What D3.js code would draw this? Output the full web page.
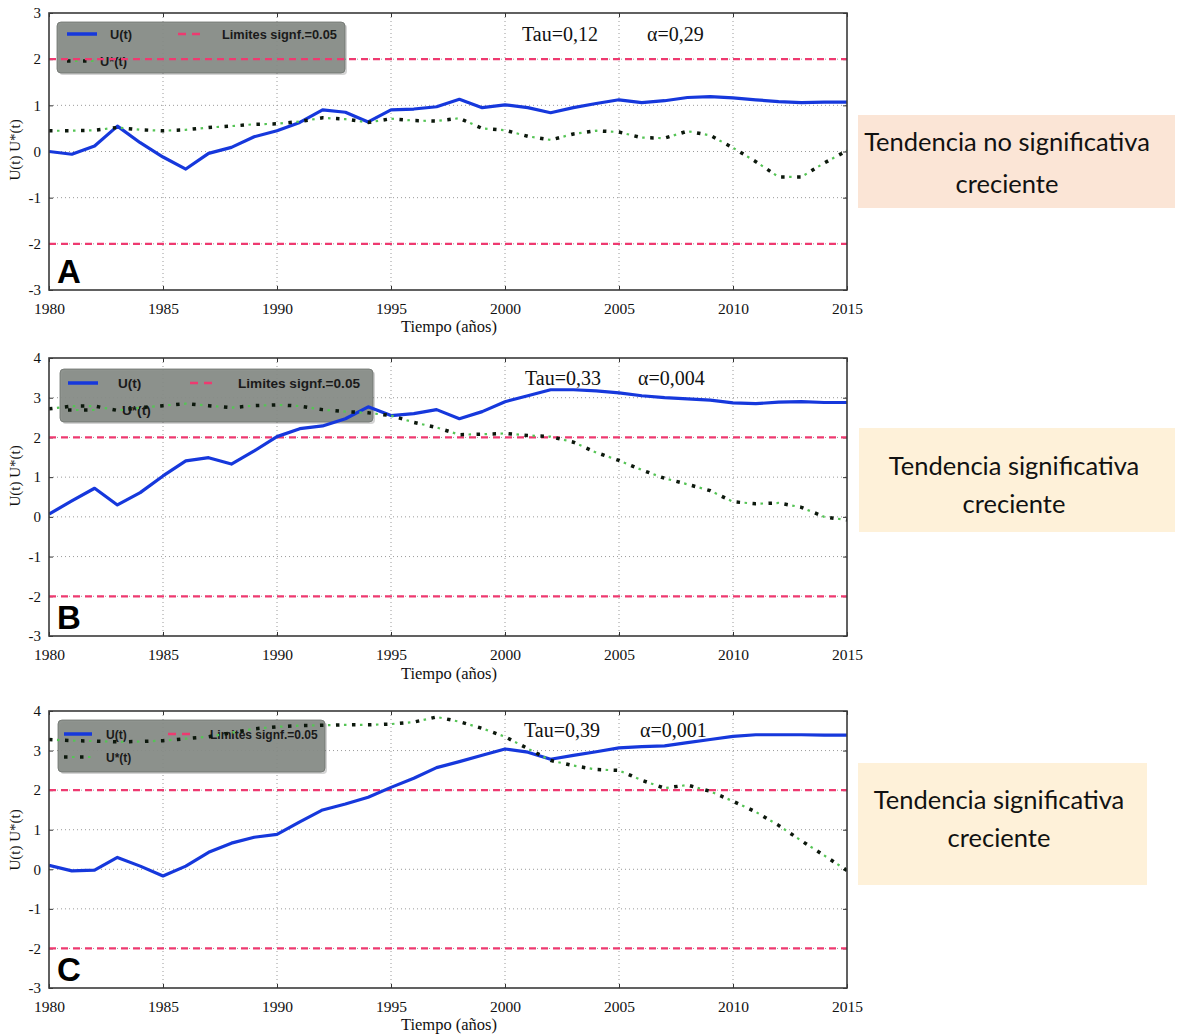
<!DOCTYPE html>
<html><head><meta charset="utf-8">
<script src="https://cdn.jsdelivr.net/npm/d3@7/dist/d3.min.js"></script>
<style>body{margin:0;background:#fff}</style></head>
<body>
<svg id="chart" width="1179" height="1035"></svg>
<script>
// ---------------- data ----------------
const years = [1980,1981,1982,1983,1984,1985,1986,1987,1988,1989,1990,1991,1992,1993,1994,1995,1996,1997,
               1998,1999,2000,2001,2002,2003,2004,2005,2006,2007,2008,2009,2010,2011,2012,2013,2014,2015];
const xTicks = [1980,1985,1990,1995,2000,2005,2010,2015];
const yTicksA = [-3,-2,-1,0,1,2,3];
const yTicksBC = [-3,-2,-1,0,1,2,3,4];
const limits = [-2, 2];

// Panel A
const uA  = [0.00,-0.06,0.12,0.55,0.19,-0.12,-0.38,-0.04,0.09,0.32,0.45,0.63,0.90,0.85,0.64,0.90,0.92,0.97,
             1.13,0.95,1.01,0.95,0.84,0.95,1.04,1.12,1.06,1.10,1.17,1.19,1.16,1.12,1.08,1.06,1.07,1.07];
const usA = [0.45,0.45,0.46,0.52,0.47,0.45,0.47,0.52,0.55,0.59,0.60,0.65,0.73,0.70,0.63,0.71,0.67,0.66,
             0.72,0.50,0.46,0.33,0.25,0.38,0.45,0.42,0.30,0.29,0.44,0.35,0.08,-0.22,-0.55,-0.55,-0.25,0.02];
// Panel B
const uB  = [0.07,0.40,0.72,0.30,0.61,1.03,1.41,1.49,1.33,1.66,2.02,2.22,2.29,2.47,2.77,2.55,2.60,2.70,
             2.47,2.65,2.90,3.05,3.20,3.20,3.17,3.12,3.05,3.00,2.97,2.94,2.87,2.85,2.89,2.90,2.88,2.88];
const usB = [2.72,2.79,2.79,2.68,2.75,2.80,2.85,2.80,2.75,2.80,2.82,2.79,2.70,2.65,2.62,2.55,2.38,2.25,
             2.07,2.08,2.10,2.05,2.02,1.88,1.62,1.42,1.18,0.97,0.82,0.66,0.38,0.33,0.35,0.24,0.00,-0.08];
// Panel C
const uC  = [0.10,-0.04,-0.02,0.30,0.08,-0.17,0.08,0.43,0.66,0.81,0.88,1.20,1.50,1.65,1.82,2.07,2.30,2.57,
             2.72,2.88,3.04,2.96,2.78,2.88,2.97,3.07,3.10,3.12,3.20,3.28,3.36,3.40,3.40,3.40,3.39,3.39];
const usC = [3.28,3.25,3.24,3.22,3.23,3.25,3.30,3.35,3.45,3.55,3.60,3.63,3.64,3.65,3.65,3.67,3.72,3.85,
             3.73,3.56,3.35,3.05,2.75,2.62,2.52,2.50,2.25,2.05,2.13,1.97,1.72,1.45,1.11,0.72,0.35,-0.03];

const statsA = ["Tau=0,12", "\u03B1=0,29"];
const statsB = ["Tau=0,33", "\u03B1=0,004"];
const statsC = ["Tau=0,39", "\u03B1=0,001"];
const legendLabels = ["U(t)", "Limites signf.=0.05", "U*(t)"];
const axisTitleX = "Tiempo (a\u00F1os)";
const axisTitleY = "U(t)  U*(t)";
const boxTextA = ["Tendencia no significativa", "creciente"];
const boxTextB = ["Tendencia significativa", "creciente"];
const boxTextC = ["Tendencia significativa", "creciente"];

// ---------------- layout ----------------
const svg = d3.select("#chart");
const L = 49, R = 847;
const x = d3.scaleLinear().domain([1980, 2015]).range([L, R]);

const panels = [
  {letter:"A", top:13, bottom:290, dom:[-3,3], yt:yTicksA, u:uA, us:usA, stats:statsA,
   statsPos:[522,41,647], ylabY:150, xtitleY:332,
   leg:{x:57,y:22,w:288,h:51, r1:34, r2:61, sx:67, sw:30, t1:110, px:178, pw:24, t2:222, t3x:100, fs:12.8},
   box:{x:858,y:115,w:317,h:93,fill:"#fbe5d6", l1:151, l2:193, cx:1007, text:boxTextA}},
  {letter:"B", top:358, bottom:636, dom:[-3,4], yt:yTicksBC, u:uB, us:usB, stats:statsB,
   statsPos:[525,385,638], ylabY:476, xtitleY:679,
   leg:{x:60,y:369,w:313,h:53, r1:383, r2:410, sx:68, sw:30, t1:118, px:190, pw:25, t2:238, t3x:122, fs:13.6},
   box:{x:859,y:428,w:316,h:104,fill:"#fef1d9", l1:475, l2:513, cx:1014, text:boxTextB}},
  {letter:"C", top:711, bottom:988, dom:[-3,4], yt:yTicksBC, u:uC, us:usC, stats:statsC,
   statsPos:[524,737,640], ylabY:840, xtitleY:1030,
   leg:{x:58,y:720,w:267,h:52, r1:734, r2:757, sx:64, sw:28, t1:106, px:168, pw:23, t2:210, t3x:106, fs:12},
   box:{x:858,y:763,w:289,h:122,fill:"#fef1d9", l1:809, l2:847, cx:999, text:boxTextC}}
];

const serif = "'Liberation Serif','Times New Roman',serif";
const sans = "'Liberation Sans',Arial,sans-serif";
const BLUE = "#1638dc", PINK = "#ee3a70", GREEN = "#55c455";
const fmt = d => String(d);

function greenLine(sel, gen, data){
  sel.append("path").attr("d", gen(data)).attr("fill","none")
    .attr("stroke", GREEN).attr("stroke-width", 2.2)
    .attr("stroke-dasharray","2.5 13.5").attr("stroke-dashoffset",-8);
  sel.append("path").attr("d", gen(data)).attr("fill","none")
    .attr("stroke", "#0c180c").attr("stroke-width", 3.5)
    .attr("stroke-dasharray","3.5 12.5");
}

panels.forEach((p, i) => {
  const y = d3.scaleLinear().domain(p.dom).range([p.bottom, p.top]);
  const g = svg.append("g");
  const clipId = "clip" + i;
  svg.append("clipPath").attr("id", clipId).append("rect")
    .attr("x", L).attr("y", p.top).attr("width", R - L).attr("height", p.bottom - p.top);

  // grid
  g.append("g").selectAll("line").data(p.yt.filter(v => v > p.dom[0] && v < p.dom[1])).join("line")
    .attr("x1", L).attr("x2", R).attr("y1", d => y(d)).attr("y2", d => y(d))
    .attr("stroke", "#9a9a9a").attr("stroke-width", 1).attr("stroke-dasharray", "1 3");
  g.append("g").selectAll("line").data(xTicks.filter(v => v > 1980 && v < 2015)).join("line")
    .attr("x1", d => x(d)).attr("x2", d => x(d)).attr("y1", p.top).attr("y2", p.bottom)
    .attr("stroke", "#9a9a9a").attr("stroke-width", 1).attr("stroke-dasharray", "1 3");

  // axes (ticks inward)
  const yAxis = d3.axisLeft(y).tickValues(p.yt).tickSize(-4).tickPadding(8).tickFormat(fmt);
  const ya = g.append("g").attr("transform", `translate(${L},0)`).call(yAxis);
  ya.select(".domain").remove();
  ya.selectAll("text").attr("font-family", serif).attr("font-size", 15).attr("fill", "#111");
  ya.selectAll("line").attr("stroke", "#333");
  const yr = g.append("g").attr("transform", `translate(${R},0)`)
    .call(d3.axisRight(y).tickValues(p.yt).tickSize(-4).tickFormat(""));
  yr.select(".domain").remove(); yr.selectAll("line").attr("stroke", "#333");

  const xAxis = d3.axisBottom(x).tickValues(xTicks).tickSize(-4).tickPadding(13).tickFormat(fmt);
  const xa = g.append("g").attr("transform", `translate(0,${p.bottom})`).call(xAxis);
  xa.select(".domain").remove();
  xa.selectAll("text").attr("font-family", serif).attr("font-size", 15.5).attr("fill", "#111");
  xa.selectAll("line").attr("stroke", "#333");
  const xt = g.append("g").attr("transform", `translate(0,${p.top})`)
    .call(d3.axisTop(x).tickValues(xTicks).tickSize(-4).tickFormat(""));
  xt.select(".domain").remove(); xt.selectAll("line").attr("stroke", "#333");

  // legend box (behind data)
  const lg = p.leg;
  g.append("rect").attr("x", lg.x + 2).attr("y", lg.y + 2).attr("width", lg.w).attr("height", lg.h)
    .attr("rx", 4).attr("fill", "#555").attr("opacity", 0.25);
  g.append("rect").attr("x", lg.x).attr("y", lg.y).attr("width", lg.w).attr("height", lg.h)
    .attr("rx", 4).attr("fill", "#878c87").attr("fill-opacity", 0.93).attr("stroke", "#6d726d").attr("stroke-width", 0.8);
  g.append("line").attr("x1", lg.sx).attr("x2", lg.sx + lg.sw).attr("y1", lg.r1).attr("y2", lg.r1)
    .attr("stroke", BLUE).attr("stroke-width", 3.5);
  g.append("line").attr("x1", lg.px).attr("x2", lg.px + lg.pw).attr("y1", lg.r1).attr("y2", lg.r1)
    .attr("stroke", PINK).attr("stroke-width", 2.5).attr("stroke-dasharray", "8 6");
  greenLine(g, d3.line(), [[lg.sx, lg.r2], [lg.sx + lg.sw, lg.r2]]);
  [[lg.t1, lg.r1, 0], [lg.t2, lg.r1, 1], [lg.t3x, lg.r2, 2]].forEach(([tx, ty, k]) => {
    g.append("text").attr("x", tx).attr("y", ty + 4.5).text(legendLabels[k])
      .attr("font-family", sans).attr("font-weight", "bold").attr("font-size", lg.fs).attr("fill", "#1a1a1a");
  });

  // data
  const dg = g.append("g").attr("clip-path", `url(#${clipId})`);
  dg.selectAll("line.lim").data(limits).join("line").attr("class", "lim")
    .attr("x1", L).attr("x2", R).attr("y1", d => y(d)).attr("y2", d => y(d))
    .attr("stroke", PINK).attr("stroke-width", 2.2).attr("stroke-dasharray", "7 5");
  const line = d3.line().x((d, j) => x(years[j])).y(d => y(d));
  dg.append("path").attr("d", line(p.u)).attr("fill", "none").attr("stroke", BLUE)
    .attr("stroke-width", 3.2).attr("stroke-linejoin", "round");
  greenLine(dg, line, p.us);

  // frame
  g.append("rect").attr("x", L).attr("y", p.top).attr("width", R - L).attr("height", p.bottom - p.top)
    .attr("fill", "none").attr("stroke", "#3a3a3a").attr("stroke-width", 1.6);

  // stats
  g.append("text").attr("x", p.statsPos[0]).attr("y", p.statsPos[1]).text(p.stats[0])
    .attr("font-family", serif).attr("font-size", 20).attr("fill", "#111");
  g.append("text").attr("x", p.statsPos[2]).attr("y", p.statsPos[1]).text(p.stats[1])
    .attr("font-family", serif).attr("font-size", 20).attr("fill", "#111");

  // letter
  g.append("text").attr("x", 57).attr("y", p.bottom - 7).text(p.letter)
    .attr("font-family", sans).attr("font-weight", "bold").attr("font-size", 33).attr("fill", "#000");

  // axis titles
  g.append("text").attr("x", 449).attr("y", p.xtitleY).attr("text-anchor", "middle").text(axisTitleX)
    .attr("font-family", serif).attr("font-size", 16.5).attr("fill", "#111");
  g.append("text").attr("transform", `translate(20,${p.ylabY}) rotate(-90)`).attr("text-anchor", "middle")
    .text(axisTitleY).attr("font-family", serif).attr("font-size", 15).attr("fill", "#111");

  // side box
  const b = p.box;
  svg.append("rect").attr("x", b.x).attr("y", b.y).attr("width", b.w).attr("height", b.h).attr("fill", b.fill);
  [b.l1, b.l2].forEach((yy, k) => {
    svg.append("text").attr("x", b.cx).attr("y", yy).attr("text-anchor", "middle").text(b.text[k])
      .attr("font-family", "Lato,'Open Sans',sans-serif").attr("font-size", 25.5).attr("fill", "#111");
  });
});
</script>
</body></html>
